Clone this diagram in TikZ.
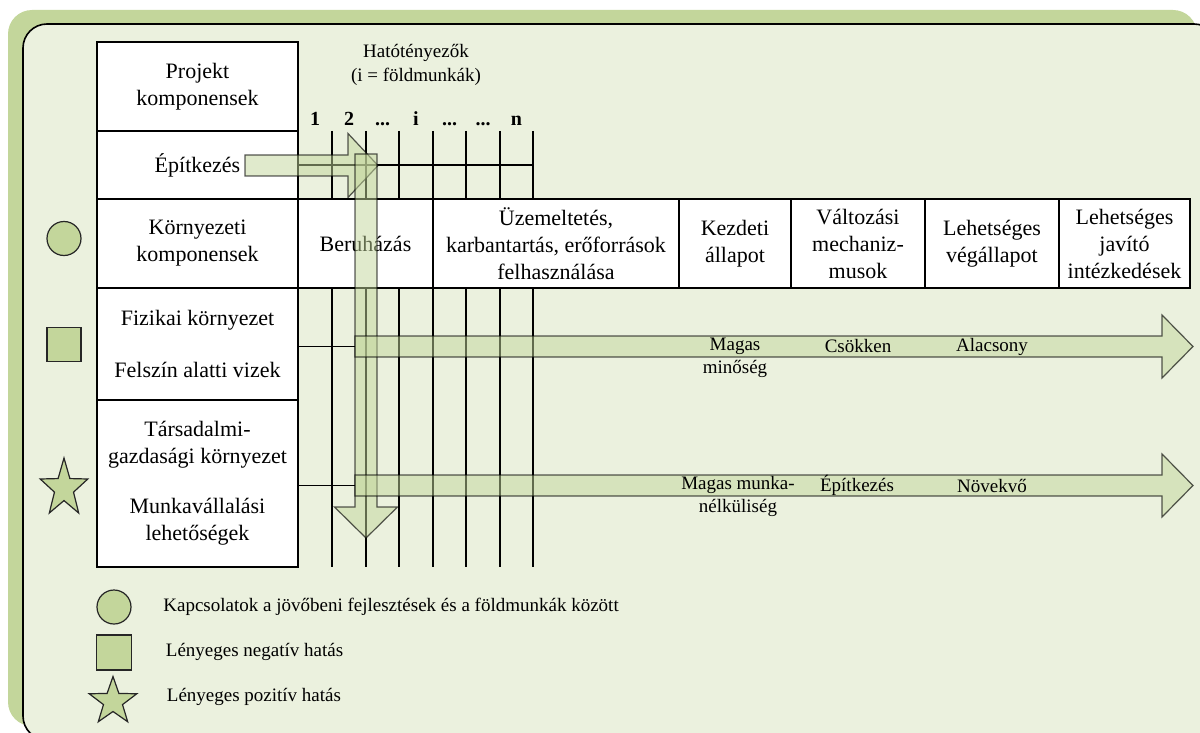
\documentclass[tikz,border=0pt]{standalone}
\usepackage{fontspec}
\setmainfont{Liberation Serif}
\usetikzlibrary{shapes.geometric}
\definecolor{oliveband}{HTML}{C3D69B}
\definecolor{panelbg}{HTML}{EBF1DE}

\tikzset{
  cell/.style={draw=black, line width=0.6pt, fill=white, inner sep=0pt, align=center,
               font=\fontsize{11}{13.5}\selectfont},
  small/.style={inner sep=0pt, align=center, font=\fontsize{9.5}{11.5}\selectfont},
  legendtext/.style={inner sep=0pt, anchor=west, font=\fontsize{9.5}{11.5}\selectfont},
  factor/.style={inner sep=0pt, anchor=base, font=\fontsize{10}{12}\selectfont\bfseries},
  gridline/.style={draw=black, line width=0.6pt},
  blockarrow/.style={fill=oliveband, fill opacity=0.5, draw=black, draw opacity=0.65,
                     line width=0.6pt, line join=miter},
  marker/.style={fill=oliveband, draw=black!85, line width=0.6pt, inner sep=0pt},
  pics/starmark/.style={code={
    \draw[marker] (0,-25) -- (5.88,-8.09) -- (23.78,-7.73) -- (9.51,3.09) -- (14.69,20.23)
      -- (0,10) -- (-14.69,20.23) -- (-9.51,3.09) -- (-23.78,-7.73) -- (-5.88,-8.09) -- cycle;
  }},
}

\begin{document}
\begin{tikzpicture}[x=0.5pt, y=-0.5pt]
\useasboundingbox (0,0) rectangle (1200,733);
\clip (0,0) rectangle (1200,733);

% background: olive band and light panel
\fill[oliveband, rounded corners=12pt] (8,10) rectangle (1197,726);
\filldraw[fill=panelbg, draw=black, line width=0.8pt, rounded corners=12pt] (23,24) rectangle (1218,740);

% project and environment components column
\node[cell, minimum width=100.5pt, minimum height=44.5pt] (proj)  at (197.5,86.5) {Projekt\\komponensek};
\node[cell, minimum width=100.5pt, minimum height=34pt]   (epit)  at (197.5,165) {Építkezés};
\node[cell, minimum width=100.5pt, minimum height=44.5pt] (korny) at (197.5,243.5) {Környezeti\\komponensek};
\node[cell, minimum width=100.5pt, minimum height=56pt]   (fiz)   at (197.5,344) {Fizikai környezet\\[12.5pt]Felszín alatti vizek};
\node[cell, minimum width=100.5pt, minimum height=83.5pt] (tars)  at (197.5,483.5) {Társadalmi-\\gazdasági környezet\\[11.5pt]Munkavállalási\\lehetőségek};

% header row
\node[cell, minimum width=67.5pt, minimum height=44.5pt] (beru) at (365.5,243.5) {Beruházás};
\node[cell, minimum width=123pt,  minimum height=44.5pt] (uzem) at (556,243.5) {Üzemeltetés,\\karbantartás, erőforrások\\felhasználása};
\node[cell, minimum width=56pt,   minimum height=44.5pt] (kezd) at (735,243.5) {Kezdeti\\állapot};
\node[cell, minimum width=67pt,   minimum height=44.5pt] (valt) at (858,243.5) {Változási\\mechaniz-\\musok};
\node[cell, minimum width=67pt,   minimum height=44.5pt] (vega) at (992,243.5) {Lehetséges\\végállapot};
\node[cell, minimum width=65.5pt, minimum height=44.5pt] (javi) at (1124.5,243.5) {Lehetséges\\javító\\intézkedések};

% impact factors
\node[small, font=\fontsize{9.5}{12}\selectfont] (hato) at (416,65) {Hatótényezők\\(i = földmunkák)};
\node[factor] (f1) at (315,126) {1};
\node[factor] (f2) at (349,126) {2};
\node[factor] (f3) at (382.5,126) {...};
\node[factor] (f4) at (416,126) {i};
\node[factor] (f5) at (449.5,126) {...};
\node[factor] (f6) at (483,126) {...};
\node[factor] (f7) at (516.5,126) {n};

% factor grid
\foreach \x in {332,366,399,433,466,500,533} {
  \draw[gridline] (\x,131) -- (\x,199);
  \draw[gridline] (\x,288) -- (\x,567);
}
\coordinate (gridR) at (533,0);
\draw[gridline] (epit.east) -- (epit.east -| gridR);

% links from the environment rows to the trend arrows
\coordinate (barA) at (355,346.5);
\coordinate (barB) at (355,485.5);
\draw[gridline] (barA -| fiz.east) -- (barA);
\draw[gridline] (barB -| tars.east) -- (barB);

% block arrows
\draw[blockarrow] (245,155) -- (348,155) -- (348,133.5) -- (378,165.5) -- (348,197.5) -- (348,176) -- (245,176) -- cycle;
\draw[blockarrow] (355,154) -- (377,154) -- (377,507) -- (397.5,507) -- (366,538) -- (334.5,507) -- (355,507) -- cycle;
\draw[blockarrow] (355,336) -- (1162,336) -- (1162,315) -- (1193,346.5) -- (1162,378) -- (1162,357) -- (355,357) -- cycle;
\draw[blockarrow] (355,475) -- (1162,475) -- (1162,454) -- (1193,485.5) -- (1162,517) -- (1162,496) -- (355,496) -- cycle;

% trend labels
\node[small] (t1) at (735,357.5) {Magas\\minőség};
\node[small] (t2) at (858,346.5) {Csökken};
\node[small] (t3) at (992,346.5) {Alacsony};
\node[small] (t4) at (738,496.5) {Magas munka-\\nélküliség};
\node[small] (t5) at (857,485.5) {Építkezés};
\node[small] (t6) at (992,485.5) {Növekvő};

% impact markers
\node[marker, circle, minimum size=17pt] (m1) at (64,238.5) {};
\node[marker, rectangle, minimum size=17pt] (m2) at (64,344.5) {};
\pic[yscale=1.216] at (64,488.4) {starmark};

% legend
\node[marker, circle, minimum size=17pt] (l1) at (114,607) {};
\node[marker, rectangle, minimum size=17.5pt] (l2) at (114,652.5) {};
\pic at (113,701.5) {starmark};
\node[legendtext] (lt1) at (163,607) {Kapcsolatok a jövőbeni fejlesztések és a földmunkák között};
\node[legendtext] (lt2) at (165.5,652) {Lényeges negatív hatás};
\node[legendtext] (lt3) at (166.5,697) {Lényeges pozitív hatás};
\end{tikzpicture}
\end{document}
